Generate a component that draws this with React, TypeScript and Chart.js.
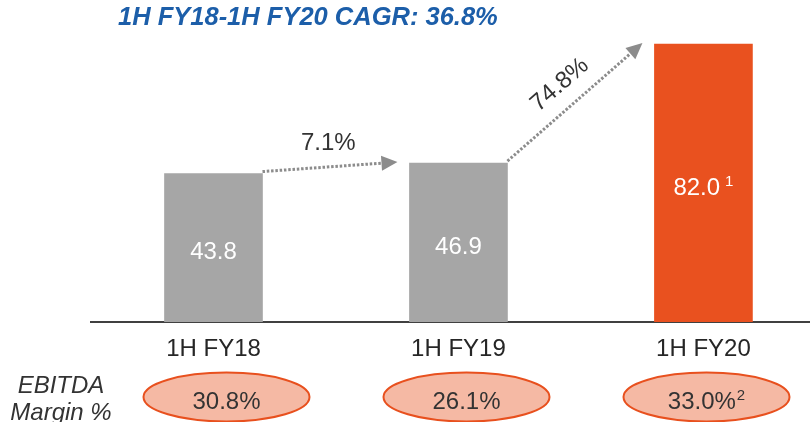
import React, { useEffect, useRef } from 'react';
import { Chart, registerables } from 'chart.js';

Chart.register(...registerables);

const periods = ['1H FY18', '1H FY19', '1H FY20'];
const revenue = [43.8, 46.9, 82.0];
const revenueNotes = ['', '', '1'];
const growthLabels = ['7.1%', '74.8%'];
const marginLabels = ['30.8%', '26.1%', '33.0%'];
const marginNotes = ['', '', '2'];
const titleText = '1H FY18-1H FY20 CAGR: 36.8%';
const rowLabel = ['EBITDA', 'Margin %'];
const barColors = ['#a6a6a6', '#a6a6a6', '#e9511f'];

const FONT = '"Liberation Sans", Arial, Helvetica, sans-serif';
const TEXT = '#333333';

function drawWithSup(
  ctx: CanvasRenderingContext2D,
  main: string,
  sup: string,
  cx: number,
  baseline: number,
  size: number,
  supSize: number,
  gap: number,
  color: string
) {
  ctx.save();
  ctx.fillStyle = color;
  ctx.textAlign = 'left';
  ctx.textBaseline = 'alphabetic';
  ctx.font = `${size}px ${FONT}`;
  const w1 = ctx.measureText(main).width;
  ctx.font = `${supSize}px ${FONT}`;
  const w2 = sup ? ctx.measureText(sup).width + gap : 0;
  const start = cx - (w1 + w2) / 2;
  ctx.font = `${size}px ${FONT}`;
  ctx.fillText(main, start, baseline);
  if (sup) {
    ctx.font = `${supSize}px ${FONT}`;
    ctx.fillText(sup, start + w1 + gap, baseline - size * 0.36);
  }
  ctx.restore();
}

const annotations = {
  id: 'annotations',
  afterDatasetsDraw(chart: any) {
    const ctx: CanvasRenderingContext2D = chart.ctx;
    const bars = chart.getDatasetMeta(0).data as any[];

    // value labels inside bars
    bars.forEach((bar, i) => {
      const mid = (bar.y + bar.base) / 2 + 3;
      drawWithSup(ctx, revenue[i].toFixed(1), revenueNotes[i], bar.x, mid + 8.6, 24, 15, 5, '#ffffff');
    });

    // growth arrows
    for (let i = 0; i < bars.length - 1; i++) {
      const a = bars[i];
      const b = bars[i + 1];
      const sx = a.x + a.width / 2;
      const sy = a.y - 2;
      const tx = b.x - b.width / 2 - 12;
      const ty = b.y - 1;
      const dx = tx - sx;
      const dy = ty - sy;
      const len = Math.hypot(dx, dy);
      const ux = dx / len;
      const uy = dy / len;
      const head = 16;
      const half = 7.5;
      const bx = tx - ux * head;
      const by = ty - uy * head;

      ctx.save();
      ctx.strokeStyle = '#8c8c8c';
      ctx.lineWidth = 3;
      ctx.setLineDash([2.5, 1.8]);
      ctx.beginPath();
      ctx.moveTo(sx, sy);
      ctx.lineTo(bx, by);
      ctx.stroke();
      ctx.setLineDash([]);
      ctx.fillStyle = '#8c8c8c';
      ctx.beginPath();
      ctx.moveTo(tx, ty);
      ctx.lineTo(bx - uy * half, by + ux * half);
      ctx.lineTo(bx + uy * half, by - ux * half);
      ctx.closePath();
      ctx.fill();

      // label
      const mx = (sx + tx) / 2;
      const my = (sy + ty) / 2;
      const px = uy;
      const py = -ux;
      const lx = mx + px * 23;
      const ly = my + py * 23;
      const ang = Math.atan2(dy, dx);
      ctx.translate(lx, ly);
      if (Math.abs(ang) > 0.2) ctx.rotate(ang);
      ctx.fillStyle = TEXT;
      ctx.font = `24px ${FONT}`;
      ctx.textAlign = 'center';
      ctx.textBaseline = 'middle';
      ctx.fillText(growthLabels[i], 0, 0);
      ctx.restore();
    }
  },
  afterDraw(chart: any) {
    const ctx: CanvasRenderingContext2D = chart.ctx;
    const area = chart.chartArea;

    // title
    ctx.save();
    ctx.fillStyle = '#1c5ea9';
    ctx.font = `italic bold 25.5px ${FONT}`;
    ctx.textAlign = 'left';
    ctx.textBaseline = 'alphabetic';
    ctx.fillText(titleText, 118, 25);
    ctx.restore();

    // row label
    ctx.save();
    ctx.fillStyle = TEXT;
    ctx.font = `italic 24px ${FONT}`;
    ctx.textAlign = 'center';
    ctx.textBaseline = 'alphabetic';
    ctx.fillText(rowLabel[0], 61, 393);
    ctx.fillText(rowLabel[1], 61, 420);
    ctx.restore();

    // margin ellipses
    marginLabels.forEach((lbl, i) => {
      const cx = area.left + 135.5 + 240 * i;
      const cy = 397;
      ctx.save();
      ctx.beginPath();
      ctx.ellipse(cx, cy, 83, 24.5, 0, 0, Math.PI * 2);
      ctx.fillStyle = '#f5b9a4';
      ctx.fill();
      ctx.lineWidth = 2;
      ctx.strokeStyle = '#e8501e';
      ctx.stroke();
      ctx.restore();
      drawWithSup(ctx, lbl, marginNotes[i], cx, 408.5, 24, 15, 1, TEXT);
    });
  },
};

export default function App() {
  const ref = useRef<HTMLCanvasElement | null>(null);

  useEffect(() => {
    if (!ref.current) return;
    const chart = new Chart(ref.current, {
      type: 'bar',
      data: {
        datasets: [
          {
            data: revenue.map((v, i) => ({ x: i, y: v })),
            backgroundColor: barColors,
            borderWidth: 0,
            barThickness: 98,
          },
        ],
      },
      options: {
        animation: false,
        responsive: true,
        maintainAspectRatio: false,
        layout: { padding: { left: 91, right: 0, top: 17, bottom: 58 } },
        plugins: {
          legend: { display: false },
          tooltip: { enabled: false },
          title: { display: false },
        },
        scales: {
          x: {
            type: 'linear',
            offset: false,
            min: -0.5,
            max: 2.435,
            afterBuildTicks: (axis: any) => {
              axis.ticks = periods.map((_, i) => ({ value: i }));
            },
            afterFit: (axis: any) => {
              axis.height = 42;
            },
            grid: { display: false, drawTicks: false, offset: false },
            border: { display: true, color: '#404040', width: 2 },
            ticks: {
              padding: 13,
              autoSkip: false,
              maxRotation: 0,
              color: '#262626',
              font: { family: FONT, size: 24 },
              callback: (v: any) => periods[v] ?? '',
            },
          },
          y: {
            display: false,
            min: 0,
            max: 90,
          },
        },
      },
      plugins: [annotations],
    });
    return () => chart.destroy();
  }, []);

  return (
    <div style={{ position: 'fixed', left: 0, top: 0, width: 810, height: 422, background: '#ffffff' }}>
      <canvas ref={ref} />
    </div>
  );
}
